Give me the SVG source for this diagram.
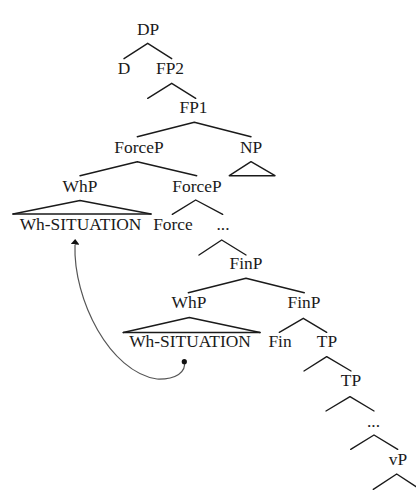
<svg xmlns="http://www.w3.org/2000/svg" width="416" height="497" viewBox="0 0 416 497">
<defs>
<style>
text{font-family:"Liberation Serif","Times New Roman",serif;font-size:17.4px;fill:#1a1a1a;text-anchor:middle}
.e{stroke:#1a1a1a;stroke-width:1.4;fill:none;stroke-linecap:round;stroke-linejoin:round}
.mv{stroke:#555;stroke-width:1.2;fill:none}
</style>
<marker id="ah" viewBox="0 0 10 10" refX="0" refY="5" markerWidth="5.5" markerHeight="9" preserveAspectRatio="none" markerUnits="userSpaceOnUse" orient="auto">
<path d="M0,0 L10,5 L0,10 z" fill="#111"/>
</marker>
</defs>
<rect width="416" height="497" fill="#fff"/>
<g id="connectors">
<path class="e" d="M124,58.7 L147.7,43.3 L171.7,58.7"/>
<path class="e" d="M147.7,98.3 L171.7,83.3 L195.7,98.3"/>
<path class="e" d="M137.3,136.7 L194.3,122.3 L251,136.7"/>
<path class="e" d="M80,175.7 L137.3,161.7 L196.7,175.7"/>
<path class="e" d="M229.3,175.7 L251,161.7 L275,175.7 Z"/>
<path class="e" d="M13,214 L80,200.5 L151,214"/>
<line class="e" x1="13" y1="214" x2="151" y2="214" stroke-width="1.7"/>
<path class="e" d="M172.3,214.3 L195.7,200 L222.7,214.3"/>
<path class="e" d="M199,255 L221.7,240 L246,255"/>
<path class="e" d="M188.3,292.7 L246,278.3 L304.3,292.7"/>
<path class="e" d="M123.3,332.5 L189.3,317.5 L260,332.5"/>
<line class="e" x1="123.3" y1="332.5" x2="260" y2="332.5" stroke-width="1.7"/>
<path class="e" d="M279.3,332.3 L303.3,318.3 L326.7,332.3"/>
<path class="e" d="M304,371 L326.7,356.7 L351,371"/>
<path class="e" d="M326,411 L350,396.7 L374,411"/>
<path class="e" d="M350.7,449.3 L374,435 L397.7,449.3"/>
<path class="e" d="M373.3,489.3 L396.7,474 L420,489.3"/>
<path class="mv" d="M184.3,361.7 C186.5,372 176,379.5 157,379 C110,372 73,300 75,244.5" marker-end="url(#ah)"/>
<circle cx="184.3" cy="361.7" r="2.6" fill="#111"/>
</g>
<g id="n-DP"><text x="148" y="35">DP</text></g>
<g id="n-D"><text x="124" y="74">D</text></g>
<g id="n-FP2"><text x="170" y="74">FP2</text></g>
<g id="n-FP1"><text x="193.5" y="113.3">FP1</text></g>
<g id="n-ForceP1"><text x="139" y="152.7">ForceP</text></g>
<g id="n-NP"><text x="251" y="152.7">NP</text></g>
<g id="n-WhP1"><text x="80" y="191.7">WhP</text></g>
<g id="n-ForceP2"><text x="197" y="191.7">ForceP</text></g>
<g id="n-WhSit1"><text x="80.5" y="230">Wh-SITUATION</text></g>
<g id="n-Force"><text x="173" y="230">Force</text></g>
<g id="n-dots1"><text x="223" y="230">...</text></g>
<g id="n-FinP1"><text x="246" y="269.3">FinP</text></g>
<g id="n-WhP2"><text x="189" y="308.3">WhP</text></g>
<g id="n-FinP2"><text x="304" y="308.3">FinP</text></g>
<g id="n-WhSit2"><text x="190" y="347.3">Wh-SITUATION</text></g>
<g id="n-Fin"><text x="280" y="347.3">Fin</text></g>
<g id="n-TP1"><text x="327" y="347.3">TP</text></g>
<g id="n-TP2"><text x="351" y="386">TP</text></g>
<g id="n-dots2"><text x="373.5" y="427">...</text></g>
<g id="n-vP"><text x="398" y="465">vP</text></g>
</svg>
